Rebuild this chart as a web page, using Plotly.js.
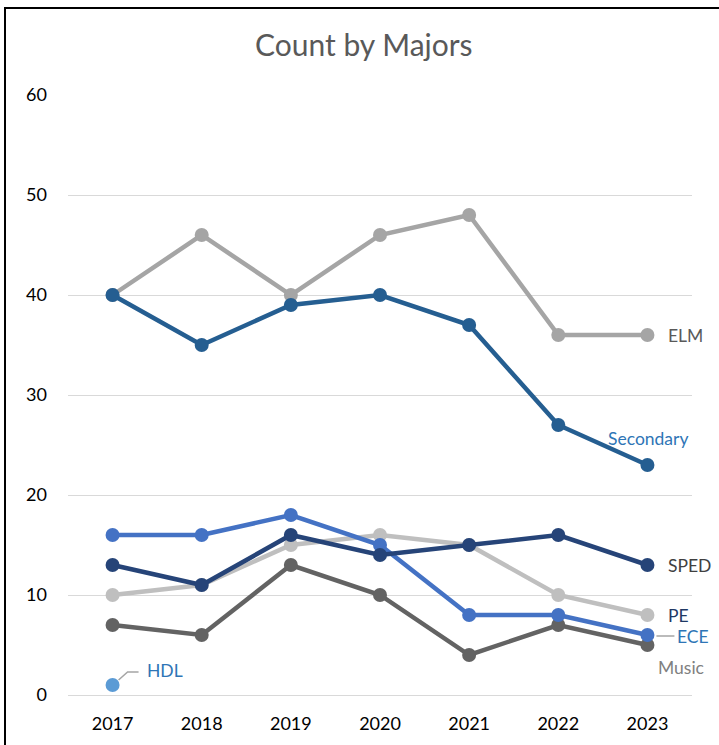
<!DOCTYPE html>
<html>
<head>
<meta charset="utf-8">
<script src="https://cdn.plot.ly/plotly-3.0.1.min.js"></script>
<style>
html,body{margin:0;padding:0;background:#fff;}
#wrap{position:relative;width:719px;height:745px;}
#chart{width:719px;height:745px;}
#frame{position:absolute;left:4px;top:7px;width:800px;height:800px;border-left:2px solid #000;border-top:2px solid #000;pointer-events:none;}
</style>
</head>
<body>
<div id="wrap"><div id="chart"></div><div id="frame"></div></div>
<script>
const years = ['2017','2018','2019','2020','2021','2022','2023'];
const ELM = [40,46,40,46,48,36,36];
const Secondary = [40,35,39,40,37,27,23];
const SPED = [13,11,16,14,15,16,13];
const PE = [10,11,15,16,15,10,8];
const ECE = [16,16,18,15,8,8,6];
const Music = [7,6,13,10,4,7,5];
const HDL = [1,null,null,null,null,null,null];
const yTicks = [0,10,20,30,40,50,60];

const FONT = 'Lato, "Open Sans", sans-serif';
function tr(name, y, color){
  return {type:'scatter', mode:'lines+markers', name:name, x:years, y:y,
    line:{color:color, width:4.5}, marker:{color:color, size:14}, cliponaxis:false, connectgaps:false};
}
const data = [
  tr('ELM', ELM, '#A5A5A5'),
  tr('Secondary', Secondary, '#255E91'),
  tr('Music', Music, '#636363'),
  tr('PE', PE, '#BFBFBF'),
  tr('ECE', ECE, '#4472C4'),
  tr('SPED', SPED, '#264478'),
  tr('HDL', HDL, '#5B9BD5')
];
const last = years.length-1;
function lab(text, y, color, opts){
  return Object.assign({x:last, y:y, xref:'x', yref:'y', text:text, showarrow:false,
    xanchor:'left', yanchor:'middle', xshift:19, font:{family:FONT, size:17.5, color:color}}, opts||{});
}
const annotations = [
  lab('ELM', ELM[last], '#595959'),
  lab('Secondary', Secondary[last], '#2E75B6', {xanchor:'center', xshift:1, yshift:27}),
  lab('SPED', SPED[last], '#404040'),
  lab('PE', PE[last], '#1F3864'),
  lab('ECE', ECE[last], '#2E75B6', {xshift:28, yshift:-1}),
  lab('Music', Music[last], '#808080', {xshift:9, yshift:-22}),
  {x:0, y:HDL[0], xref:'x', yref:'y', text:'HDL', showarrow:false, xanchor:'left', yanchor:'middle',
   xshift:32, yshift:15, font:{family:FONT, size:17.5, color:'#2E75B6'}}
];
const shapes = [
  {type:'path', xref:'x', yref:'y', xsizemode:'pixel', ysizemode:'pixel', xanchor:0, yanchor:HDL[0],
   path:'M 6 5 L 15 13 L 26 13', line:{color:'#A5A5A5', width:1.5}},
  {type:'path', xref:'x', yref:'y', xsizemode:'pixel', ysizemode:'pixel', xanchor:last, yanchor:ECE[last],
   path:'M 9 -1 L 27 -1', line:{color:'#A5A5A5', width:1.5}}
];
const layout = {
  width:719, height:745,
  margin:{l:68, r:27, t:95, b:50},
  paper_bgcolor:'#fff', plot_bgcolor:'#fff',
  showlegend:false,
  title:{text:'Count by Majors', x:0.506, xanchor:'center', y:0.939, yanchor:'middle',
    font:{family:FONT, size:30, color:'#595959'}},
  xaxis:{type:'category', categoryarray:years, range:[-0.5,6.5], showgrid:false, zeroline:false,
    showline:false, ticks:'', ticklabelstandoff:16, tickfont:{family:FONT, size:18, color:'#000'}, fixedrange:true},
  yaxis:{range:[0,60], tickvals:yTicks, ticktext:yTicks.map(String), showgrid:true, gridcolor:'#D9D9D9', gridwidth:1,
    zeroline:true, zerolinecolor:'#D9D9D9', zerolinewidth:1, showline:false, ticks:'', ticklabelstandoff:20,
    tickfont:{family:FONT, size:18, color:'#000'}, fixedrange:true},
  annotations:annotations,
  shapes:shapes
};
Plotly.newPlot('chart', data, layout, {displayModeBar:false, staticPlot:true});
</script>
</body>
</html>
